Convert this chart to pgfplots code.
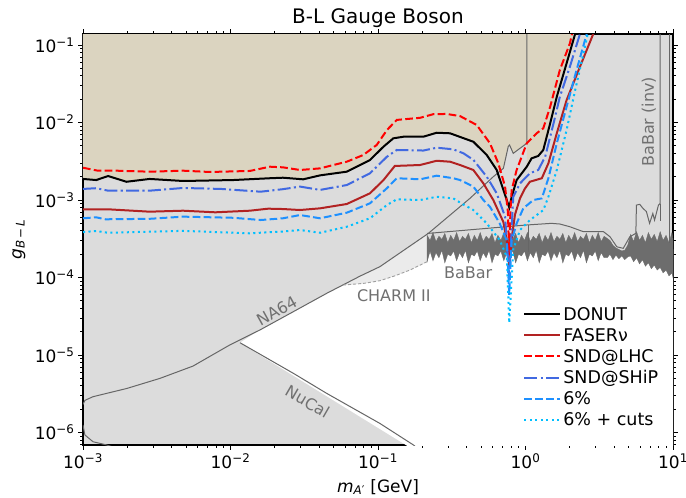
\documentclass[border=0pt]{standalone}
\usepackage{pgfplots}
\pgfplotsset{compat=1.18}
\usepackage{fontspec}
\setmainfont{DejaVu Sans}
\definecolor{bggrey}{HTML}{DCDCDC}
\definecolor{tanc}{HTML}{DBD4C0}
\definecolor{charm}{HTML}{EBEBEB}
\definecolor{bandc}{HTML}{6D6D6D}
\definecolor{lgrey}{HTML}{666666}
\definecolor{txtgrey}{HTML}{707070}
\definecolor{faser}{HTML}{B22222}
\definecolor{sndship}{HTML}{4169E1}
\definecolor{sixp}{HTML}{1E90FF}
\definecolor{sixc}{HTML}{00BFFF}
\begin{document}
\begin{tikzpicture}
\begin{axis}[
  scale only axis, width=590bp, height=411bp,
  xmode=log, ymode=log,
  xmin=1e-3, xmax=10, ymin=6.9e-7, ymax=0.1387,
  axis background/.style={fill=bggrey},
  axis line style={line width=1.1bp, black},
  tick align=outside, major tick length=5bp, minor tick length=3bp,
  every tick/.style={black, line width=0.9bp},
  xtick={1e-3,1e-2,1e-1,1,10},
  xticklabels={10\textsuperscript{−3},10\textsuperscript{−2},10\textsuperscript{−1},10\textsuperscript{0},10\textsuperscript{1}},
  minor xtick={2e-3,3e-3,4e-3,5e-3,6e-3,7e-3,8e-3,9e-3,2e-2,3e-2,4e-2,5e-2,6e-2,7e-2,8e-2,9e-2,0.2,0.3,0.4,0.5,0.6,0.7,0.8,0.9,2,3,4,5,6,7,8,9},
  ytick={1e-6,1e-5,1e-4,1e-3,1e-2,1e-1},
  yticklabels={10\textsuperscript{−6},10\textsuperscript{−5},10\textsuperscript{−4},10\textsuperscript{−3},10\textsuperscript{−2},10\textsuperscript{−1}},
  minor ytick={7e-7,8e-7,9e-7,2e-6,3e-6,4e-6,5e-6,6e-6,7e-6,8e-6,9e-6,2e-5,3e-5,4e-5,5e-5,6e-5,7e-5,8e-5,9e-5,2e-4,3e-4,4e-4,5e-4,6e-4,7e-4,8e-4,9e-4,2e-3,3e-3,4e-3,5e-3,6e-3,7e-3,8e-3,9e-3,2e-2,3e-2,4e-2,5e-2,6e-2,7e-2,8e-2,9e-2},
  tick label style={font=\fontsize{17bp}{20bp}\selectfont},
  title={B-L Gauge Boson},
  title style={font=\fontsize{20bp}{24bp}\selectfont, at={(rel axis cs:0.5,1)}, anchor=base, yshift=5bp},
  xlabel={\textit{m}\textsubscript{\textit{A}′} [GeV]},
  xlabel style={font=\fontsize{17bp}{20bp}\selectfont, at={(rel axis cs:0.5,0)}, anchor=base, yshift=-47bp},
  ylabel={\textit{g}\textsubscript{\textit{B}\,−\,\textit{L}}},
  every axis y label/.style={font=\fontsize{17bp}{20bp}\selectfont, at={([xshift=-64bp]rel axis cs:0,0.5)}, anchor=center, rotate=90},
  legend style={draw=none, fill=none, at={(rel axis cs:0.746,0.341)}, anchor=north west,
    font=\fontsize{17.5bp}{20bp}\selectfont, row sep=2.6bp, inner sep=0pt},
  legend cell align=left,
  legend image code/.code={\draw[#1] (0bp,0bp) -- (36bp,0bp);},
]
% allowed (white) region
\addplot[fill=white, draw=none, forget plot] coordinates {
 (0.0116,1.44e-5) (0.0158,2.1e-5) (0.0265,3.6e-5) (0.0449,6.25e-5) (0.058,8.0e-5)
 (0.08,8.4e-5) (0.103,9.1e-5) (0.13,1.05e-4) (0.165,1.25e-4) (0.2153,1.6e-4)
 (0.2153,2.5e-4) (3.4119,2.5e-4) (3.5727,2.1e-4) (4.9317,2.1e-4) (5.1642,2.3e-4) (10,2.3e-4)
 (10,6.0e-7) (0.174,6.0e-7)} -- cycle;
% CHARM II lighter region
\addplot[fill=charm, draw=none, forget plot] coordinates {
 (0.058,8.0e-5) (0.0754,1.04e-4) (0.103,1.38e-4) (0.217,3.65e-4) (0.217,1.6e-4)
 (0.165,1.25e-4) (0.13,1.05e-4) (0.103,9.1e-5) (0.08,8.4e-5)} -- cycle;
% DONUT excluded (tan) region
\addplot[fill=tanc, draw=none, forget plot] coordinates {
 (1.0e-3,1.87e-3) (1.23e-3,1.81e-3) (1.48e-3,2.04e-3) (1.97e-3,1.72e-3) (2.83e-3,1.87e-3)
 (4.77e-3,1.76e-3) (1.04e-2,1.81e-3) (1.85e-2,1.91e-3) (2.27e-2,1.94e-3) (3.11e-2,1.85e-3)
 (4.05e-2,2.08e-3) (6.14e-2,2.32e-3) (8.82e-2,3.28e-3) (0.109,4.88e-3) (0.127,6.25e-3)
 (0.149,6.56e-3) (0.203,6.56e-3) (0.25,7.38e-3) (0.308,7.26e-3) (0.399,6.07e-3)
 (0.443,5.65e-3) (0.546,3.81e-3) (0.638,2.44e-3) (0.65,2.2e-3)
 (0.708,2.56e-3) (0.764,4.9e-3) (0.78,5.13e-3) (0.826,4.0e-3) (1.02,5.4e-3) (1.02,2.69e-3)
 (1.10,3.45e-3) (1.22,3.70e-3) (1.32,4.42e-3) (1.47,9.77e-3) (1.63,2.15e-2) (1.90,5.81e-2)
 (2.17,0.139) (2.25,0.2) (1.0e-3,0.2)} -- cycle;
% BaBar band
\addplot[fill=bandc, draw=bandc, line width=0.4bp, forget plot] coordinates {
 (0.2153,3.5e-4) (0.2254,3.0e-4) (0.2360,3.8e-4) (0.2472,2.9e-4) (0.2588,3.4e-4) (0.2710,3.1e-4)
 (0.2838,3.7e-4) (0.2972,2.8e-4) (0.3112,3.5e-4) (0.3258,3.0e-4) (0.3412,3.8e-4) (0.3573,2.9e-4)
 (0.3741,3.4e-4) (0.3917,3.1e-4) (0.4102,3.7e-4) (0.4295,2.8e-4) (0.4498,3.5e-4) (0.4710,3.0e-4)
 (0.4932,3.8e-4) (0.5164,2.9e-4) (0.5408,3.4e-4) (0.5662,3.1e-4) (0.5929,3.7e-4) (0.6209,2.8e-4)
 (0.6501,3.5e-4) (0.6808,3.0e-4) (0.7129,3.8e-4) (0.7464,2.9e-4) (0.7816,3.4e-4) (0.8185,3.1e-4)
 (0.8570,3.7e-4) (0.8974,2.8e-4) (0.9397,3.5e-4) (0.9840,3.0e-4) (1.0304,3.8e-4) (1.0789,2.9e-4)
 (1.1298,3.4e-4) (1.1830,3.1e-4) (1.2388,3.7e-4) (1.2972,2.8e-4) (1.3583,3.5e-4) (1.4223,3.0e-4)
 (1.4894,3.8e-4) (1.5596,2.9e-4) (1.6331,3.4e-4) (1.7100,3.1e-4) (1.7906,3.7e-4) (1.8750,2.8e-4)
 (1.9634,3.5e-4) (2.0559,3.0e-4) (2.1528,3.8e-4) (2.2542,2.9e-4) (2.3605,3.4e-4) (2.4717,3.1e-4)
 (2.5882,3.7e-4) (2.7102,2.8e-4) (2.8379,3.5e-4) (2.9717,3.0e-4) (3.1117,3.8e-4) (3.2584,2.9e-4)
 (3.4119,3.4e-4) (3.5727,3.2e-4) (3.7411,3.0e-4) (3.9174,2.6e-4) (4.1020,2.4e-4) (4.2954,2.3e-4)
 (4.4978,2.2e-4) (4.7098,2.25e-4) (4.9317,2.6e-4) (5.1642,3.6e-4) (5.4075,2.9e-4) (5.6624,3.9e-4)
 (5.9292,3.0e-4) (6.2087,3.5e-4) (6.5013,2.8e-4) (6.8077,3.8e-4) (7.1285,3.1e-4) (7.4645,3.6e-4)
 (7.8163,2.9e-4) (8.1846,3.9e-4) (8.5704,3.0e-4) (8.9743,3.5e-4) (9.3972,2.8e-4) (9.8401,3.8e-4)
 (10,3.1e-4)
 (10,1.0e-4) (9.8401,1.15e-4) (9.3972,1.05e-4) (8.9743,1.25e-4) (8.5704,1.15e-4) (8.1846,1.35e-4)
 (7.8163,1.25e-4) (7.4645,1.45e-4) (7.1285,1.3e-4) (6.8077,1.55e-4) (6.5013,1.4e-4) (6.2087,1.7e-4)
 (5.9292,1.5e-4) (5.6624,1.8e-4) (5.4075,1.6e-4) (5.1642,1.9e-4) (4.9317,1.85e-4) (4.7098,1.7e-4)
 (4.4978,1.9e-4) (4.2954,1.75e-4) (4.1020,1.95e-4) (3.9174,1.7e-4) (3.7411,2.0e-4) (3.5727,1.8e-4)
 (3.4119,1.8e-4) (3.2584,2.1e-4) (3.1117,1.65e-4) (2.9717,2.2e-4) (2.8379,1.9e-4) (2.7102,2.0e-4)
 (2.5882,1.55e-4) (2.4717,2.25e-4) (2.3605,1.8e-4) (2.2542,2.1e-4) (2.1528,1.65e-4) (2.0559,2.2e-4)
 (1.9634,1.9e-4) (1.8750,2.0e-4) (1.7906,1.55e-4) (1.7100,2.25e-4) (1.6331,1.8e-4) (1.5596,2.1e-4)
 (1.4894,1.65e-4) (1.4223,2.2e-4) (1.3583,1.9e-4) (1.2972,2.0e-4) (1.2388,1.55e-4) (1.1830,2.25e-4)
 (1.1298,1.8e-4) (1.0789,2.1e-4) (1.0304,1.65e-4) (0.9840,2.2e-4) (0.9397,1.9e-4) (0.8974,2.0e-4)
 (0.8570,1.55e-4) (0.8185,2.25e-4) (0.7816,1.8e-4) (0.7464,2.1e-4) (0.7129,1.65e-4) (0.6808,2.2e-4)
 (0.6501,1.9e-4) (0.6209,2.0e-4) (0.5929,1.55e-4) (0.5662,2.25e-4) (0.5408,1.8e-4) (0.5164,2.1e-4)
 (0.4932,1.65e-4) (0.4710,2.2e-4) (0.4498,1.9e-4) (0.4295,2.0e-4) (0.4102,1.55e-4) (0.3917,2.25e-4)
 (0.3741,1.8e-4) (0.3573,2.1e-4) (0.3412,1.65e-4) (0.3258,2.2e-4) (0.3112,1.9e-4) (0.2972,2.0e-4)
 (0.2838,1.55e-4) (0.2710,2.25e-4) (0.2588,1.8e-4) (0.2472,2.1e-4) (0.2360,1.65e-4) (0.2254,2.2e-4)
 (0.2153,1.6e-4)} -- cycle;
% grey boundary lines
\addplot[lgrey, line width=1bp, forget plot] coordinates {
 (1.0e-3,2.3e-6) (1.03e-3,2.6e-6) (1.17e-3,2.9e-6) (1.98e-3,3.7e-6) (3.33e-3,5.0e-6)
 (5.57e-3,7.2e-6) (9.9e-3,1.35e-5) (1.58e-2,2.1e-5) (2.65e-2,3.6e-5) (4.49e-2,6.25e-5)
 (7.54e-2,1.04e-4) (0.103,1.38e-4) (0.219,3.7e-4) (0.42,1.05e-3) (0.605,2.0e-3)
 (0.708,2.56e-3) (0.764,4.9e-3) (0.78,5.13e-3) (0.826,4.0e-3) (1.02,5.4e-3) (1.02,0.2)};
\addplot[lgrey, line width=1bp, forget plot] coordinates {
 (0.0116,1.44e-5) (0.0267,5.8e-6) (0.0449,3.2e-6) (0.103,1.31e-6) (0.174,6.9e-7) (0.2,5.5e-7)};
\addplot[lgrey, line width=1bp, forget plot] coordinates {
 (1.0e-3,1.25e-6) (1.03e-3,9.3e-7) (1.17e-3,7.6e-7) (1.45e-3,6.9e-7) (1.6e-3,6.5e-7)};
\addplot[gray!75, line width=0.9bp, dash pattern=on 3bp off 2bp, forget plot] coordinates {
 (0.058,8.0e-5) (0.08,8.4e-5) (0.103,9.1e-5) (0.13,1.05e-4) (0.165,1.25e-4) (0.215,1.6e-4)};
\addplot[lgrey, line width=1bp, forget plot] coordinates {
 (0.215,3.7e-4) (0.668,4.45e-4) (1.0,4.75e-4) (1.5,5.0e-4) (1.71,4.9e-4) (2.0,4.52e-4)
 (2.47,3.9e-4) (3.38,3.9e-4) (3.74,3.36e-4) (4.16,2.49e-4) (4.6,2.38e-4) (5.1,3.36e-4)
 (5.6,3.72e-4) (5.65,8.6e-4) (5.95,8.8e-4) (6.26,7.8e-4) (6.6,7.1e-4) (6.94,5.0e-4)
 (7.3,6.7e-4) (7.5,5.5e-4) (7.97,8.6e-4) (8.17,9.0e-4) (8.17,0.2)};
\addplot[lgrey, line width=1bp, forget plot] coordinates {(8.17,9.0e-4) (8.17,5.3e-4)};
\addplot[lgrey, line width=1bp, forget plot] coordinates {(1.04,4.75e-4) (1.04,2.15e-4)};
\addplot[lgrey, line width=1bp, forget plot] coordinates {(9.45,0.2) (9.45,2.8e-4)};
% sensitivity curves
\addplot[black, line width=2bp] coordinates {
 (1.0e-3,1.87e-3) (1.23e-3,1.81e-3) (1.48e-3,2.04e-3) (1.97e-3,1.72e-3) (2.83e-3,1.87e-3)
 (4.77e-3,1.76e-3) (1.04e-2,1.81e-3) (1.85e-2,1.91e-3) (2.27e-2,1.94e-3) (3.11e-2,1.85e-3)
 (4.05e-2,2.08e-3) (6.14e-2,2.32e-3) (8.82e-2,3.28e-3) (0.109,4.88e-3) (0.127,6.25e-3)
 (0.149,6.56e-3) (0.203,6.56e-3) (0.25,7.38e-3) (0.308,7.26e-3) (0.399,6.07e-3)
 (0.443,5.65e-3) (0.546,3.81e-3) (0.638,2.44e-3) (0.708,1.35e-3) (0.776,8.0e-4)
 (0.806,1.10e-3) (0.871,1.81e-3) (1.02,2.69e-3) (1.10,3.45e-3) (1.22,3.70e-3) (1.32,4.42e-3)
 (1.47,9.77e-3) (1.63,2.15e-2) (1.90,5.81e-2) (2.17,0.139) (2.25,0.17)};
\addlegendentry{DONUT}
\addplot[faser, line width=2bp] coordinates {
 (1.0e-3,7.59e-4) (1.48e-3,7.59e-4) (2.83e-3,7.07e-4) (4.77e-3,7.28e-4) (7.9e-3,6.94e-4)
 (1.35e-2,7.28e-4) (1.8e-2,7.73e-4) (2.27e-2,7.65e-4) (2.96e-2,7.43e-4) (4.05e-2,7.81e-4)
 (6.14e-2,8.88e-4) (8.82e-2,1.22e-3) (0.109,1.81e-3) (0.13,2.75e-3) (0.193,2.83e-3)
 (0.25,3.21e-3) (0.308,3.12e-3) (0.36,2.83e-3) (0.443,2.44e-3) (0.518,1.64e-3)
 (0.605,1.0e-3) (0.708,5.2e-4) (0.747,3.0e-4) (0.776,1.4e-4) (0.806,3.2e-4) (0.849,6.5e-4)
 (0.918,1.05e-3) (0.99,1.4e-3) (1.07,1.72e-3) (1.29,1.91e-3) (1.43,2.98e-3) (1.63,7.26e-3)
 (1.90,1.95e-2) (2.34,5.25e-2) (2.88,0.139) (3.0,0.17)};
\addlegendentry{FASERν}
\addplot[red, line width=2bp, dash pattern=on 7.7bp off 3.3bp] coordinates {
 (1.0e-3,2.61e-3) (1.26e-3,2.39e-3) (1.68e-3,2.39e-3) (2.83e-3,2.32e-3) (4.77e-3,2.39e-3)
 (7.23e-3,2.30e-3) (1.35e-2,2.37e-3) (1.85e-2,2.69e-3) (2.27e-2,2.64e-3) (2.96e-2,2.44e-3)
 (4.05e-2,2.56e-3) (6.14e-2,3.12e-3) (7.95e-2,3.81e-3) (9.8e-2,5.13e-3) (0.115,8.0e-3)
 (0.134,1.08e-2) (0.193,1.15e-2) (0.237,1.28e-2) (0.292,1.29e-2) (0.36,1.21e-2)
 (0.467,9.29e-3) (0.574,5.4e-3) (0.654,2.98e-3) (0.727,1.49e-3) (0.760,7.0e-4)
 (0.776,1.8e-4) (0.790,7.0e-4) (0.806,1.35e-3) (0.871,2.44e-3) (1.02,5.4e-3) (1.19,7.26e-3)
 (1.32,8.42e-3) (1.47,1.6e-2) (1.71,4.76e-2) (2.0,0.105) (2.1,0.16)};
\addlegendentry{SND@LHC}
\addplot[sndship, line width=2bp, dash pattern=on 13bp off 3.3bp on 2.1bp off 3.3bp] coordinates {
 (1.0e-3,1.39e-3) (1.23e-3,1.42e-3) (1.48e-3,1.32e-3) (2.83e-3,1.32e-3) (4.77e-3,1.43e-3)
 (8.6e-3,1.39e-3) (1.6e-2,1.28e-3) (2.27e-2,1.38e-3) (2.96e-2,1.49e-3) (4.05e-2,1.35e-3)
 (6.14e-2,1.56e-3) (8.82e-2,2.21e-3) (0.115,3.62e-3) (0.134,4.42e-3) (0.203,4.35e-3)
 (0.25,4.73e-3) (0.324,4.51e-3) (0.38,4.0e-3) (0.443,3.3e-3) (0.546,2.0e-3) (0.638,1.22e-3)
 (0.727,6.1e-4) (0.776,1.0e-4) (0.826,1.1e-3) (0.918,1.64e-3) (1.07,2.21e-3) (1.22,2.44e-3)
 (1.36,3.62e-3) (1.55,9.77e-3) (1.71,2.15e-2) (2.0,5.25e-2) (2.34,0.139) (2.45,0.17)};
\addlegendentry{SND@SHiP}
\addplot[sixp, line width=2bp, dash pattern=on 7.7bp off 3.3bp] coordinates {
 (1.0e-3,5.81e-4) (1.23e-3,5.98e-4) (1.42e-3,5.64e-4) (2.83e-3,5.72e-4) (4.77e-3,6.1e-4)
 (1.04e-2,5.9e-4) (1.6e-2,5.52e-4) (2.27e-2,5.81e-4) (2.96e-2,6.4e-4) (4.05e-2,5.81e-4)
 (6.14e-2,6.86e-4) (8.82e-2,9.06e-4) (0.115,1.42e-3) (0.134,1.91e-3) (0.193,1.85e-3)
 (0.25,2.06e-3) (0.324,1.91e-3) (0.36,1.81e-3) (0.443,1.49e-3) (0.518,1.0e-3) (0.574,8.2e-4)
 (0.668,5.0e-4) (0.747,3.0e-4) (0.776,6.0e-5) (0.806,3.0e-4) (0.871,5.0e-4) (0.966,7.8e-4)
 (1.13,1.0e-3) (1.29,1.05e-3) (1.43,1.91e-3) (1.63,5.4e-3) (1.90,1.6e-2) (2.22,4.76e-2)
 (2.60,0.139) (2.7,0.17)};
\addlegendentry{6\%}
\addplot[sixc, line width=2bp, dash pattern=on 2.1bp off 3.4bp] coordinates {
 (1.0e-3,3.86e-4) (1.23e-3,3.98e-4) (1.48e-3,3.78e-4) (4.77e-3,4.0e-4) (7.9e-3,3.86e-4)
 (1.35e-2,3.72e-4) (2.27e-2,3.92e-4) (2.96e-2,4.1e-4) (4.05e-2,3.78e-4) (6.14e-2,4.52e-4)
 (8.82e-2,5.81e-4) (0.115,8.62e-4) (0.134,1.02e-3) (0.193,1.0e-3) (0.25,1.10e-3)
 (0.324,1.05e-3) (0.367,9.06e-4) (0.443,7.43e-4) (0.546,5.0e-4) (0.668,3.05e-4)
 (0.747,1.85e-4) (0.776,2.6e-5) (0.826,2.3e-4) (0.918,4.1e-4) (1.07,5.5e-4) (1.32,7.4e-4)
 (1.43,1.1e-3) (1.63,2.44e-3) (1.90,8.0e-3) (2.17,2.6e-2) (2.53,0.095) (2.7,0.17)};
\addlegendentry{6\% + cuts}
% region labels
\node[txtgrey, font=\fontsize{16bp}{19bp}\selectfont] at (axis cs:0.409,1.16e-4) {BaBar};
\node[txtgrey, font=\fontsize{16bp}{19bp}\selectfont] at (axis cs:0.128,5.77e-5) {CHARM II};
\node[txtgrey, font=\fontsize{16bp}{19bp}\selectfont, rotate=29] at (axis cs:2.06e-2,3.72e-5) {NA64};
\node[txtgrey, font=\fontsize{16bp}{19bp}\selectfont, rotate=-30] at (axis cs:3.33e-2,2.5e-6) {NuCal};
\node[txtgrey, font=\fontsize{16bp}{19bp}\selectfont, rotate=90] at (axis cs:6.87,1.02e-2) {BaBar (inv)};
\coordinate (sw) at (rel axis cs:0,0);
\coordinate (ne) at (rel axis cs:1,1);
\end{axis}
\pgfresetboundingbox
\path ([shift={(-83bp,-53bp)}]sw) rectangle ([shift={(13bp,34bp)}]ne);
\end{tikzpicture}
\end{document}
